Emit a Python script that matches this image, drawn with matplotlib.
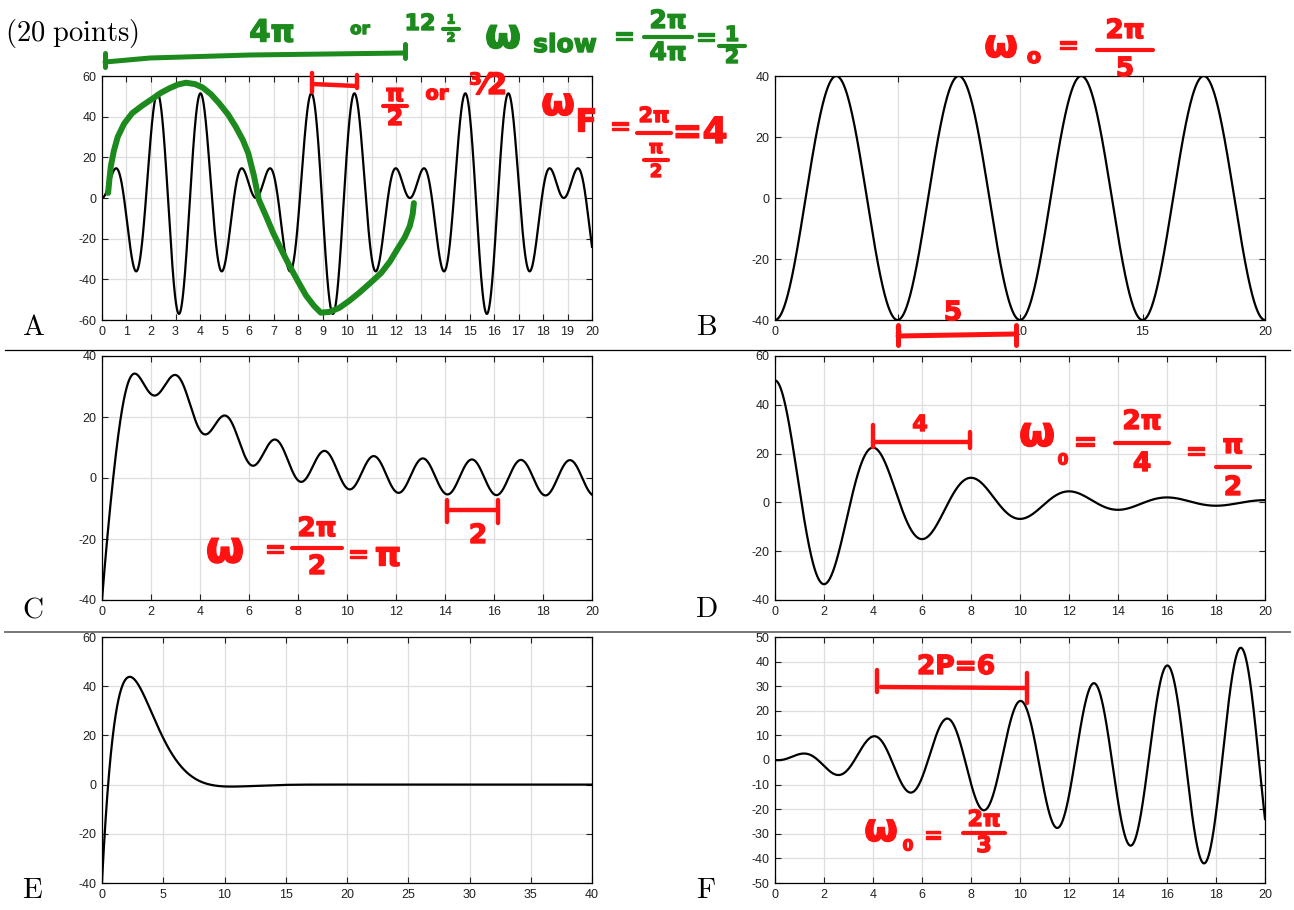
import numpy as np
import matplotlib
matplotlib.use("Agg")
import matplotlib.pyplot as plt
import matplotlib.patheffects as pe

plt.rcParams['font.family'] = ['Liberation Sans', 'DejaVu Sans']
plt.rcParams['axes.unicode_minus'] = False

# ---- curve parameters ----
# A: beats, y = amp*(cos(w1 t) - cos(w2 t))
a_amp = 28.5
a_omegas = [3.0, 4.0]
# hand-drawn green envelope over A (t, y)
a_sketch_t = [0.25, 0.3, 0.36, 0.48, 0.64, 0.9, 1.23, 1.65, 2.08, 2.4, 2.76, 3.1, 3.43, 3.8,
              4.1, 4.45, 4.78, 5.15, 5.46, 5.75, 5.97, 6.2, 6.4, 6.7, 6.98, 7.3, 7.66, 8.0,
              8.33, 8.65, 8.93, 9.3, 9.69, 10.1, 10.5, 10.95, 11.4, 11.75, 12.05, 12.35,
              12.56, 12.68, 12.73]
a_sketch_y = [2.5, 9, 15.5, 23, 30, 36.5, 41.7, 45.5, 49, 51.7, 54, 55.8, 56.7, 56,
              54.4, 51, 46.6, 41, 35, 28.5, 22, 11, -0.8, -9, -17, -25, -33.5, -41,
              -48, -53, -56.4, -56, -54, -50.5, -46.6, -41.8, -36.8, -31.3, -25.3, -19.5,
              -13.9, -8, -2.5]
# B: pure cosine
b_amp = -40.0
b_period = 5.0
# C: two decaying exponentials + steady oscillation
c_exp_amps = [117.5, -152.0]
c_exp_rates = [0.40, 1.02]
c_ss_amp = 5.8
c_ss_period = 2.0
c_ss_peak = 1.1
# D: damped oscillation
d_y0 = 50.0
d_decay = 0.2
d_period = 4.0
# E: strongly damped
e_amp = 210.0
e_decay = 0.48
e_omega = 0.378
e_t0 = 0.5
# F: resonance growth
f_slope = 2.4
f_period = 3.0
f_shift = 0.25

panel_letters = ["A", "B", "C", "D", "E", "F"]
x_limits = [(0, 20), (0, 20), (0, 20), (0, 20), (0, 40), (0, 20)]
x_steps = [1, 5, 2, 2, 5, 2]
y_limits = [(-60, 60), (-40, 40), (-40, 40), (-40, 60), (-40, 60), (-50, 50)]
y_steps = [20, 20, 20, 20, 20, 10]

W, H = 1294, 910
fig = plt.figure(figsize=(W / 100, H / 100), dpi=100)

GREEN = '#1c8a1c'
RED = '#ff1212'


def px_axes(left, top, right, bottom):
    return fig.add_axes([left / W, 1 - bottom / H, (right - left) / W, (bottom - top) / H])


boxes = [(102, 76, 592, 320), (775, 76, 1265, 320),
         (102, 356, 592, 600), (775, 356, 1265, 600),
         (102, 637, 592, 883), (775, 637, 1265, 883)]

t20 = np.linspace(0, 20, 3000)
t40 = np.linspace(0, 40, 3000)
curves = [
    (t20, a_amp * (np.cos(a_omegas[0] * t20) - np.cos(a_omegas[1] * t20))),
    (t20, b_amp * np.cos(2 * np.pi * t20 / b_period)),
    (t20, c_exp_amps[0] * np.exp(-c_exp_rates[0] * t20) + c_exp_amps[1] * np.exp(-c_exp_rates[1] * t20)
     + c_ss_amp * np.cos(2 * np.pi / c_ss_period * (t20 - c_ss_peak))),
    (t20, d_y0 * np.exp(-d_decay * t20) * (np.cos(2 * np.pi / d_period * t20)
     + d_decay / (2 * np.pi / d_period) * np.sin(2 * np.pi / d_period * t20))),
    (t40, e_amp * np.exp(-e_decay * t40) * np.sin(e_omega * (t40 - e_t0))),
    (t20, f_slope * t20 * np.sin(2 * np.pi / f_period * (t20 - f_shift))),
]

axes = []
for i, box in enumerate(boxes):
    ax = px_axes(*box)
    x, y = curves[i]
    ax.plot(x, y, color='black', lw=1.6, zorder=3)
    ax.set_xlim(*x_limits[i])
    ax.set_ylim(*y_limits[i])
    ax.set_xticks(np.arange(x_limits[i][0], x_limits[i][1] + 0.1, x_steps[i]))
    ax.set_yticks(np.arange(y_limits[i][0], y_limits[i][1] + 0.1, y_steps[i]))
    ax.grid(True, color='#dedede', lw=0.9)
    ax.set_axisbelow(True)
    ax.tick_params(direction='in', length=4, width=0.8, top=True, right=True,
                   labelsize=9, colors='#222222', pad=4)
    for s in ax.spines.values():
        s.set_linewidth(0.9)
        s.set_color('black')
    axes.append(ax)

# green sketch on A
axes[0].plot(a_sketch_t, a_sketch_y, color=GREEN, lw=4.3, solid_capstyle='round',
             solid_joinstyle='round', zorder=5)

# overlay in pixel coordinates
ov = fig.add_axes([0, 0, 1, 1], zorder=10)
ov.set_xlim(0, W)
ov.set_ylim(H, 0)
ov.axis('off')
ov.patch.set_alpha(0)

# separators
ov.plot([5, 1290], [350, 350], color='black', lw=0.9)
ov.plot([5, 1290], [632, 632], color='#777777', lw=1.4)

# panel letters and heading
letter_pos = [(33, 327), (706, 327), (33, 609), (706, 609), (33, 890), (706, 890)]
for (lx, ly), s in zip(letter_pos, panel_letters):
    ov.text(lx, ly, r'$\mathrm{%s}$' % s, math_fontfamily='cm', fontsize=21,
            ha='center', va='center')
ov.text(5, 33, r'$\mathrm{(20\ points)}$', math_fontfamily='cm', fontsize=20.5,
        ha='left', va='center')


def hw(x, y, s, size, color):
    ov.text(x, y, s, fontsize=size, color=color, ha='center', va='center',
            fontweight='bold', family='DejaVu Sans',
            path_effects=[pe.withStroke(linewidth=1.0, foreground=color)])


def stroke(xs, ys, color, lw=3.2):
    ov.plot(xs, ys, color=color, lw=lw, solid_capstyle='round', solid_joinstyle='round')


def frac(x, y_bar, num, den, half_w, size, color, gap):
    hw(x, y_bar - gap, num, size, color)
    stroke([x - half_w, x + half_w], [y_bar, y_bar], color, lw=3)
    hw(x, y_bar + gap, den, size, color)


# ---- green notes above A ----
stroke([105, 150, 250, 405], [62, 58, 55, 53], GREEN, lw=3.6)
stroke([105, 105], [53, 67], GREEN, lw=3.6)
stroke([405, 405], [44, 58], GREEN, lw=3.6)
hw(272, 33, '4π', 22, GREEN)
hw(360, 29, 'or', 12, GREEN)
hw(420, 24, '12', 16, GREEN)
frac(451, 29, '1', '2', 8, 9, GREEN, 9)
hw(503, 36, 'ω', 30, GREEN)
hw(565, 45, 'slow', 18, GREEN)
hw(624, 37, '=', 18, GREEN)
frac(668, 37, '2π', '4π', 24, 18, GREEN, 16)
hw(706, 38, '=', 18, GREEN)
frac(732, 46, '1', '2', 13, 15, GREEN, 11)

# ---- red notes on A ----
stroke([312, 312], [73, 92], RED)
stroke([312, 357], [84, 86], RED)
stroke([357, 357], [75, 88], RED)
frac(395, 106, 'π', '2', 12, 17, RED, 12)
hw(437, 94, 'or', 14, RED)
hw(488, 86, '³⁄2', 21, RED)
hw(558, 104, 'ω', 28, RED)
hw(586, 122, 'F', 22, RED)
hw(620, 127, '=', 18, RED)
frac(654, 133, '2π', '', 17, 15, RED, 17)
frac(656, 160, 'π', '2', 12, 13, RED, 12)
hw(700, 133, '=4', 26, RED)

# ---- B ----
hw(1001, 46, 'ω', 28, RED)
hw(1034, 57, 'o', 15, RED)
hw(1068, 46, '=', 18, RED)
frac(1125, 50, '2π', '5', 28, 19, RED, 19)
stroke([898, 898], [325, 345], RED, lw=3.6)
stroke([898, 1015], [336, 334], RED, lw=3.6)
stroke([1016, 1016], [325, 345], RED, lw=3.6)
hw(953, 313, '5', 19, RED)

# ---- C ----
hw(225, 550, 'ω', 32, RED)
hw(275, 550, '=', 18, RED)
frac(317, 548, '2π', '2', 25, 19, RED, 19)
hw(358, 555, '=', 18, RED)
hw(388, 556, 'π', 24, RED)
stroke([447, 447], [500, 522], RED)
stroke([447, 498], [510, 510], RED)
stroke([498, 498], [500, 523], RED)
hw(478, 536, '2', 19, RED)

# ---- D ----
stroke([873, 873], [425, 447], RED)
stroke([873, 970], [442, 442], RED)
stroke([970, 970], [432, 448], RED)
hw(920, 425, '4', 16, RED)
hw(1037, 434, 'ω', 30, RED)
hw(1063, 460, '0', 11, RED)
hw(1085, 442, '=', 20, RED)
frac(1142, 443, '2π', '4', 27, 19, RED, 21)
hw(1196, 452, '=', 18, RED)
frac(1233, 467, 'π', '2', 17, 19, RED, 21)

# ---- F ----
stroke([877, 877], [670, 692], RED)
stroke([881, 1026], [687, 688], RED)
stroke([1027, 1027], [673, 703], RED)
hw(956, 667, '2P=6', 19, RED)
hw(881, 830, 'ω', 28, RED)
hw(908, 846, '0', 11, RED)
hw(933, 835, '=', 17, RED)
frac(984, 833, '2π', '3', 21, 16, RED, 13)

fig.savefig('out.png', dpi=100)
